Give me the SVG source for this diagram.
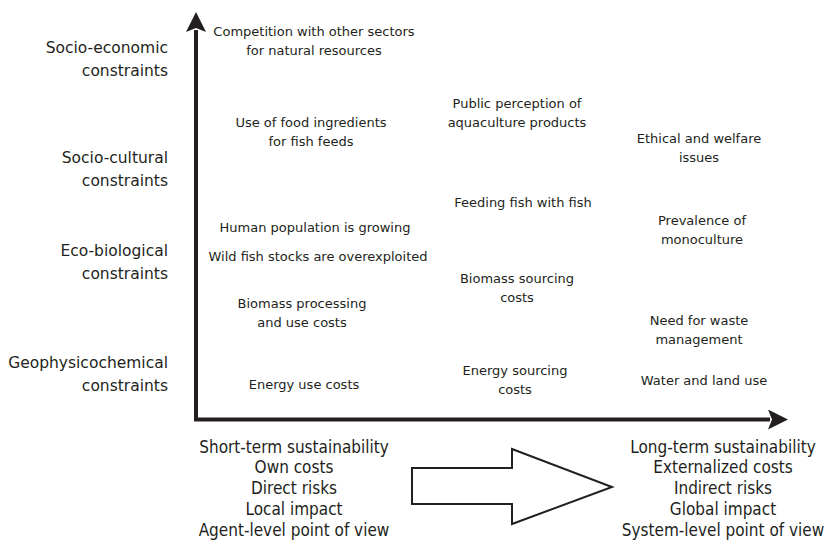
<svg xmlns="http://www.w3.org/2000/svg" width="834" height="540" viewBox="0 0 834 540">
<style>
text{font-family:"DejaVu Sans","Verdana",sans-serif;fill:#231f20;text-anchor:middle}
.ax{font-size:15.5px;text-anchor:end}
.in{font-size:13px}
.bt{font-size:17px;font-family:"DejaVu Sans Condensed","DejaVu Sans",sans-serif;font-stretch:condensed}
.axis{stroke:#231f20;stroke-width:4;fill:none}
</style>
<defs>
<marker id="ah" viewBox="0 0 20 20" refX="2" refY="10" markerWidth="20" markerHeight="20" markerUnits="userSpaceOnUse" orient="auto">
<path d="M0,0 L20,10 L0,20 L4,10 Z" fill="#231f20"/>
</marker>
</defs>
<rect width="834" height="540" fill="#fff"/>
<g id="connectors">
<path id="y-axis" class="axis" d="M196,421 L196,30" marker-end="url(#ah)"/>
<path id="x-axis" class="axis" d="M194,419.5 L770,419.5" marker-end="url(#ah)"/>
<path id="big-arrow" d="M412,468 L512,468 L512,449 L612,487 L512,524 L512,504 L412,504 Z" fill="#fff" stroke="#231f20" stroke-width="2"/>
</g>
<g id="axis-labels">
<text class="ax" x="168" y="53">Socio-economic</text>
<text class="ax" x="168" y="76">constraints</text>
<text class="ax" x="168" y="163">Socio-cultural</text>
<text class="ax" x="168" y="186">constraints</text>
<text class="ax" x="168" y="256">Eco-biological</text>
<text class="ax" x="168" y="279">constraints</text>
<text class="ax" x="168" y="368">Geophysicochemical</text>
<text class="ax" x="168" y="391">constraints</text>
</g>
<g id="n-competition"><text class="in" x="314" y="36">Competition with other sectors</text><text class="in" x="314" y="55">for natural resources</text></g>
<g id="n-food"><text class="in" x="311" y="127">Use of food ingredients</text><text class="in" x="311" y="146">for fish feeds</text></g>
<g id="n-public"><text class="in" x="517" y="108">Public perception of</text><text class="in" x="517" y="127">aquaculture products</text></g>
<g id="n-ethical"><text class="in" x="699" y="143">Ethical and welfare</text><text class="in" x="699" y="162">issues</text></g>
<g id="n-feeding"><text class="in" x="523" y="207">Feeding fish with fish</text></g>
<g id="n-human"><text class="in" x="315" y="232">Human population is growing</text></g>
<g id="n-prevalence"><text class="in" x="702" y="225">Prevalence of</text><text class="in" x="702" y="244">monoculture</text></g>
<g id="n-wild"><text class="in" x="318" y="261">Wild fish stocks are overexploited</text></g>
<g id="n-biomass-sourcing"><text class="in" x="517" y="283">Biomass sourcing</text><text class="in" x="517" y="302">costs</text></g>
<g id="n-biomass-processing"><text class="in" x="302" y="308">Biomass processing</text><text class="in" x="302" y="327">and use costs</text></g>
<g id="n-waste"><text class="in" x="699" y="325">Need for waste</text><text class="in" x="699" y="344">management</text></g>
<g id="n-energy-use"><text class="in" x="304" y="389">Energy use costs</text></g>
<g id="n-energy-sourcing"><text class="in" x="515" y="375">Energy sourcing</text><text class="in" x="515" y="394">costs</text></g>
<g id="n-water"><text class="in" x="704" y="385">Water and land use</text></g>
<g id="short-term">
<text class="bt" x="294" y="453">Short-term sustainability</text>
<text class="bt" x="294" y="473">Own costs</text>
<text class="bt" x="294" y="494">Direct risks</text>
<text class="bt" x="294" y="515">Local impact</text>
<text class="bt" x="294" y="536">Agent-level point of view</text>
</g>
<g id="long-term">
<text class="bt" x="723" y="453">Long-term sustainability</text>
<text class="bt" x="723" y="473">Externalized costs</text>
<text class="bt" x="723" y="494">Indirect risks</text>
<text class="bt" x="723" y="515">Global impact</text>
<text class="bt" x="723" y="536">System-level point of view</text>
</g>
</svg>
